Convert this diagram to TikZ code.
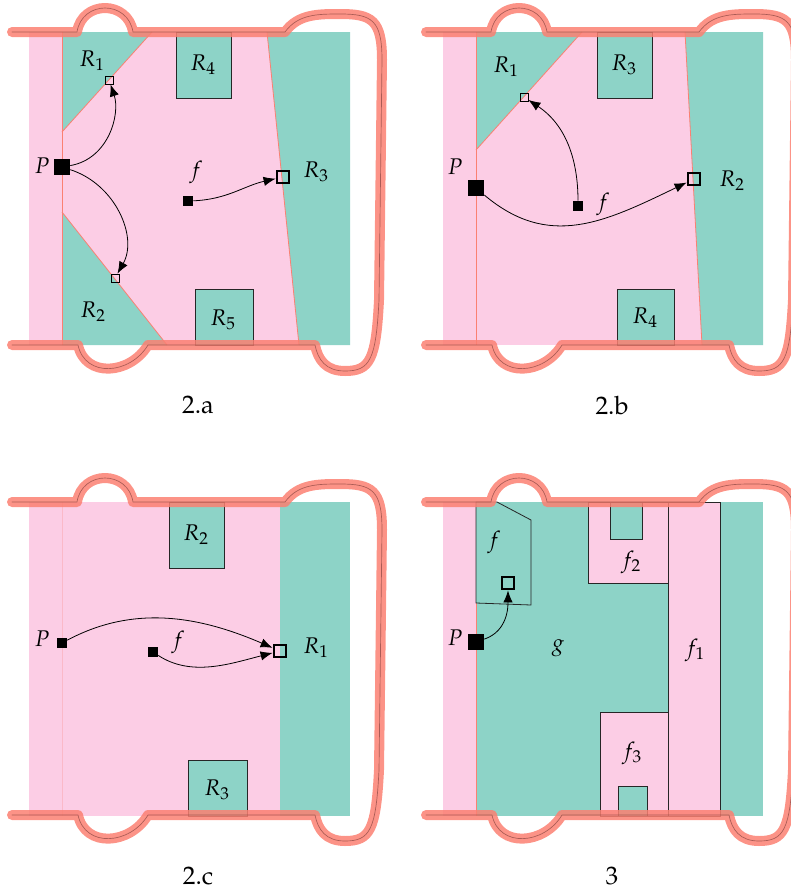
\documentclass[tikz,border=0pt]{standalone}
\usepackage[T1]{fontenc}
\usepackage{mathpazo}
\usetikzlibrary{arrows.meta}

\definecolor{setpink}{RGB}{252,205,229}
\definecolor{setteal}{RGB}{141,211,199}
\definecolor{setsalmon}{RGB}{251,128,114}
\definecolor{wallcore}{RGB}{150,78,72}

\tikzset{
  pinkreg/.style={fill=setpink},
  tealreg/.style={fill=setteal},
  seam/.style={draw=setsalmon, line width=0.6pt},
  regbox/.style={fill=setteal, draw=black!85, line width=0.6pt},
  pinkbox/.style={fill=setpink, draw=black!85, line width=0.6pt},
  wallline/.style={draw=setsalmon, draw opacity=0.85, line width=7.5pt, line cap=round, line join=round,
    postaction={draw=wallcore, draw opacity=0.8, line width=0.5pt}},
  bigpt/.style={rectangle, fill=black, inner sep=0pt, minimum size=12pt},
  smallpt/.style={rectangle, fill=black, inner sep=0pt, minimum size=7.5pt},
  tinytgt/.style={rectangle, draw=black, line width=0.6pt, inner sep=0pt, minimum size=6pt},
  bigtgt/.style={rectangle, draw=black, line width=1.6pt, inner sep=0pt, minimum size=9.5pt},
  lbl/.style={inner sep=0pt, font=\fontsize{17}{20}\selectfont},
  caption/.style={inner sep=0pt, font=\fontsize{19}{22}\selectfont},
  arr/.style={line width=0.6pt, -{Latex[length=9pt,width=7pt]}}
}

% the wall round one panel, shifted by (#1,#2)
\newcommand{\wall}[2]{%
  \draw[wallline, shift={(#1,#2)}] (12,32) -- (77,32) .. controls (82,0) and (128,0) .. (133,32)
    -- (285,32) .. controls (298,14) and (318,14) .. (340,14)
    .. controls (372,14) and (382,20) .. (382,60) -- (379,300)
    .. controls (376,360) and (370,371) .. (345,371)
    .. controls (326,371) and (318,360) .. (315,345)
    -- (148,345) .. controls (130,375) and (85,378) .. (78,345) -- (12,345);}

\begin{document}
\begin{tikzpicture}[x=0.75pt,y=0.75pt,yscale=-1,xscale=1]
\useasboundingbox (0,0) rectangle (790,896);

%%% Panel 2.a
%Shape: Rectangle
\fill[pinkreg] (29,32) rectangle (350,345);
%Shape: Polygon
\fill[tealreg] (62,32) -- (152,32) -- (62,132) -- cycle;
\fill[tealreg] (62,212) -- (167,345) -- (62,345) -- cycle;
\fill[tealreg] (267,32) -- (350,32) -- (350,345) -- (299,345) -- cycle;
%Straight Lines
\draw[seam] (62,32) -- (62,345);
\draw[seam] (152,32) -- (62,132);
\draw[seam] (62,212) -- (167,345);
\draw[seam] (267,32) -- (299,345);
%Shape: Rectangle
\draw[regbox] (176,32) rectangle (231,98);
\draw[regbox] (195,289) rectangle (253,345);
% points
\node[bigpt] (Pa) at (62,167) {};
\node[smallpt] (fa) at (188,201) {};
\node[tinytgt] (R1a) at (109,80) {};
\node[tinytgt] (R2a) at (115,278) {};
\node[bigtgt] (R3a) at (283,177) {};
\draw[arr] (Pa) to[out=-15,in=75] (R1a);
\draw[arr] (Pa) to[out=25,in=-65] (R2a);
\draw[arr] (fa) to[out=-3,in=160] (R3a);
% Text Node
\node[lbl] (Pa-l) at (42,166) {$P$};
\node[lbl] (fa-l) at (196,172) {$f$};
\node[lbl] (R1a-l) at (92,61) {$R_1$};
\node[lbl] (R2a-l) at (93,312) {$R_2$};
\node[lbl] (R3a-l) at (316,172) {$R_3$};
\node[lbl] (R4a-l) at (203,65) {$R_4$};
\node[lbl] (R5a-l) at (223,320) {$R_5$};
\node[caption] (capa) at (198,405) {2.a};

%%% Panel 2.b
%Shape: Rectangle
\fill[pinkreg] (443,32) rectangle (763,345);
%Shape: Polygon
\fill[tealreg] (476,32) -- (582,32) -- (476,150) -- cycle;
\fill[tealreg] (685,32) -- (763,32) -- (763,345) -- (702,345) -- cycle;
%Straight Lines
\draw[seam] (476,32) -- (476,345);
\draw[seam] (582,32) -- (476,150);
\draw[seam] (685,32) -- (702,345);
%Shape: Rectangle
\draw[regbox] (597,32) rectangle (652,98);
\draw[regbox] (617,289) rectangle (674,345);
% points
\node[bigpt] (Pb) at (476,188) {};
\node[smallpt] (fb) at (578,206) {};
\node[tinytgt] (R1b) at (524,97) {};
\node[bigtgt] (R2b) at (694,179) {};
\draw[arr] (fb) to[out=-90,in=40] (R1b);
\draw[arr] (Pb) to[out=47,in=150,looseness=1.2] (R2b);
% Text Node
\node[lbl] (Pb-l) at (455,167) {$P$};
\node[lbl] (fb-l) at (603,204) {$f$};
\node[lbl] (R1b-l) at (506,67) {$R_1$};
\node[lbl] (R2b-l) at (732,181) {$R_2$};
\node[lbl] (R3b-l) at (624,65) {$R_3$};
\node[lbl] (R4b-l) at (645,318) {$R_4$};
\node[caption] (capb) at (612,405) {2.b};

%%% Panel 2.c
%Shape: Rectangle
\fill[pinkreg] (29,502) rectangle (350,816);
\fill[tealreg] (280,502) rectangle (350,816);
%Straight Lines
\draw[seam, draw opacity=0.25] (62,502) -- (62,816);
%Shape: Rectangle
\draw[regbox] (169,502) rectangle (224,568);
\draw[regbox] (188,760) rectangle (247,816);
% points
\node[smallpt] (Pc) at (62,643) {};
\node[smallpt] (fc) at (153,652) {};
\node[bigtgt] (R1c) at (280,651) {};
\draw[arr] (Pc) to[out=-32,in=-152] (R1c);
\draw[arr] (fc) to[out=42,in=160] (R1c);
% Text Node
\node[lbl] (Pc-l) at (42,639) {$P$};
\node[lbl] (fc-l) at (178,642) {$f$};
\node[lbl] (R1c-l) at (316,648) {$R_1$};
\node[lbl] (R2c-l) at (196,535) {$R_2$};
\node[lbl] (R3c-l) at (217,790) {$R_3$};
\node[caption] (capc) at (198,876) {2.c};

%%% Panel 3
%Shape: Rectangle
\fill[pinkreg] (443,502) rectangle (763,816);
\fill[tealreg] (476,502) rectangle (763,816);
\draw[seam] (476,502) -- (476,816);
%Shape: Rectangle
\draw[pinkbox] (668,502) rectangle (720,816);
\draw[pinkbox] (588,502) rectangle (668,583);
\draw[regbox] (610,502) rectangle (642,539);
\draw[pinkbox] (600,712) rectangle (668,816);
\draw[regbox] (618,786) rectangle (647,816);
%Shape: Polygon
\draw[regbox] (476,502) -- (497,502) -- (531,520) -- (531,605) -- (476,603) -- cycle;
% points
\node[bigpt] (Pd) at (476,642) {};
\node[bigtgt] (fd-t) at (508,583) {};
\draw[arr] (Pd) to[out=-35,in=90] (fd-t);
% Text Node
\node[lbl] (Pd-l) at (455,638) {$P$};
\node[lbl] (fd-l) at (494,542) {$f$};
\node[lbl] (gd-l) at (558,648) {$g$};
\node[lbl] (f1d-l) at (695,650) {$f_1$};
\node[lbl] (f2d-l) at (631,562) {$f_2$};
\node[lbl] (f3d-l) at (632,753) {$f_3$};
\node[caption] (capd) at (612,876) {3};

%%% walls
\wall{0}{0}
\wall{414}{0}
\wall{0}{470}
\wall{414}{470}
\end{tikzpicture}
\end{document}
